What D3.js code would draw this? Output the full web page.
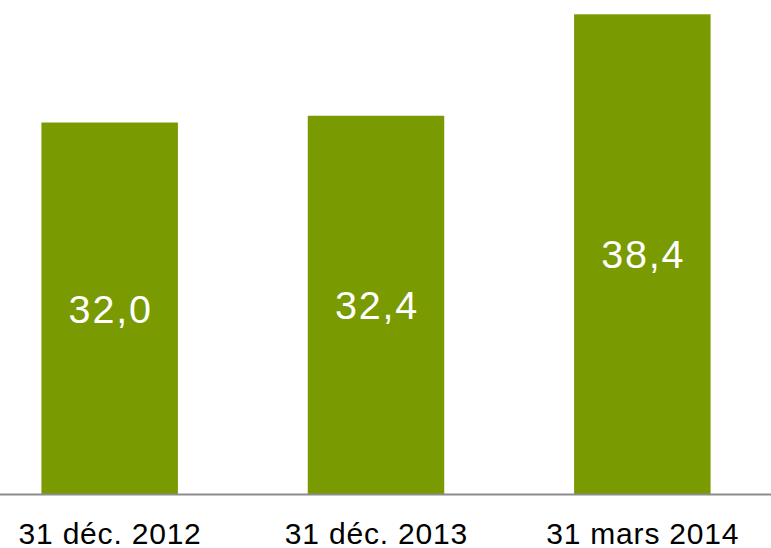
<!DOCTYPE html>
<html><head><meta charset="utf-8">
<script src="https://cdn.jsdelivr.net/npm/d3@7"></script>
<style>body{margin:0;background:#fff}svg{display:block}</style>
</head><body>
<script>
const categories = ["31 déc. 2012", "31 déc. 2013", "31 mars 2014"];
const values = [32.0, 32.4, 38.4];
const valueLabels = ["32,0", "32,4", "38,4"];

const W = 771, H = 548;
const svg = d3.select("body").append("svg").attr("width", W).attr("height", H);

const x = d3.scaleBand().domain(categories).range([-23.5, 775.5])
  .paddingInner(0.4875).paddingOuter(0.24375);
const y = d3.scaleLinear().domain([10, 38.4]).range([494.5, 14.3]);

const font = "Liberation Sans, Arial, sans-serif";

svg.selectAll("rect.bar").data(values).join("rect").attr("class","bar")
  .attr("x", (d,i) => x(categories[i]))
  .attr("width", x.bandwidth())
  .attr("y", d => y(d))
  .attr("height", d => y.range()[0] - y(d))
  .attr("fill", "#7a9a01");

svg.selectAll("text.val").data(values).join("text").attr("class","val")
  .attr("x", (d,i) => x(categories[i]) + x.bandwidth()/2 + 1)
  .attr("y", d => (y(d) + y.range()[0]) / 2 + 14)
  .attr("text-anchor", "middle")
  .attr("fill", "#fff")
  .style("font-family", font)
  .style("font-size", "39.5px")
  .style("letter-spacing", "1.8px")
  .text((d,i) => valueLabels[i]);

const axis = d3.axisBottom(x).tickSize(0).tickPadding(0);
const g = svg.append("g").attr("transform", `translate(0,${y.range()[0]})`).call(axis);
g.select(".domain").remove();
g.selectAll("text").attr("dy", null).attr("y", 49).attr("dx", 0.4)
  .style("font-family", font).style("font-size", "30px")
  .style("letter-spacing", "0.8px").attr("fill", "#000");

svg.append("line").attr("x1", 0).attr("x2", W)
  .attr("y1", y.range()[0]).attr("y2", y.range()[0])
  .attr("stroke", "#8c8c8c").attr("stroke-width", 2);
</script>
</body></html>
